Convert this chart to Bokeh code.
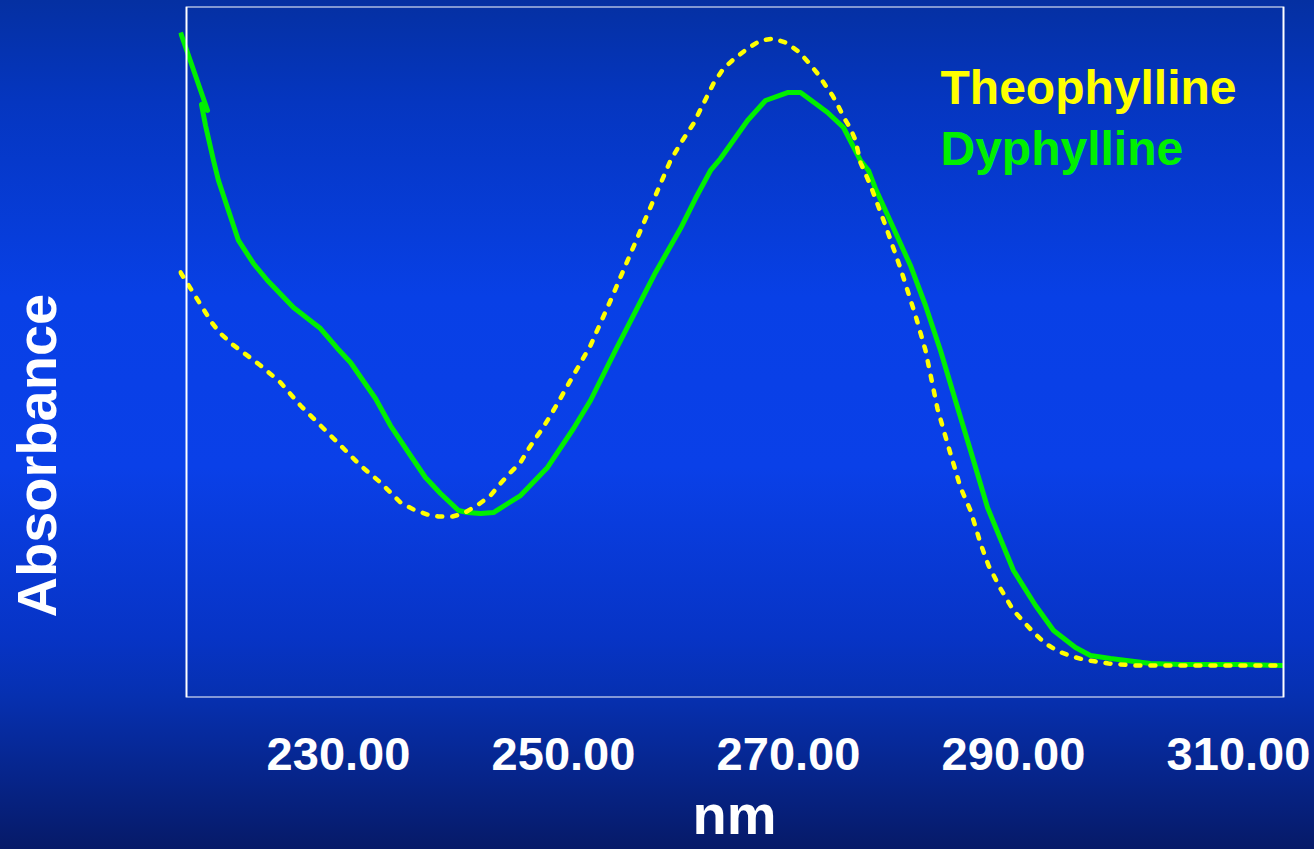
import math
from bokeh.plotting import figure
from bokeh.models import BoxAnnotation, Label, FixedTicker, Range1d
from bokeh.embed import file_html
from bokeh.resources import INLINE

# ---- data ----
tick_values = [230, 250, 270, 290, 310]
tick_labels = ["230.00", "250.00", "270.00", "290.00", "310.00"]
y_label_pos = [0.35]
y_label_text = ["Absorbance"]

# pixel-read positions converted: nm = 230 + (px-338)/11.25 ; A = (697-py)/691
dy_px_x = [180, 207, 201, 205, 213, 218, 227, 238, 253, 267, 293, 320, 337, 350, 375, 390, 410, 425,
           440, 458, 467, 480, 493, 520, 547, 573, 590, 615, 638, 655, 680, 695, 710, 720, 747, 765,
           787, 800, 815, 827, 843, 860, 868, 875, 895, 910, 925, 940, 955, 970, 987, 1013, 1035,
           1053, 1075, 1090, 1110, 1150, 1180, 1240, 1283]
dy_px_y = [32, 110, 104, 125, 160, 180, 207, 240, 263, 280, 307, 328, 348, 362, 398, 425, 455, 477,
           493, 510, 512, 513, 512, 495, 467, 428, 400, 350, 305, 272, 228, 198, 170, 158, 120, 100,
           92, 92, 103, 112, 127, 160, 170, 188, 232, 265, 305, 350, 400, 450, 507, 570, 605,
           630, 647, 655, 658, 663, 664, 664, 665]

th_px_x = [180, 205, 212, 220, 232, 260, 280, 300, 320, 340, 360, 380, 400, 413, 427, 438, 452, 463,
           478, 490, 500, 510, 520, 527, 535, 542, 550, 557, 570, 590, 610, 625, 640, 655, 670, 680,
           693, 703, 713, 723, 733, 747, 760, 773, 785, 798, 808, 817, 825, 832, 838, 844, 850, 855,
           860, 870, 885, 900, 915, 925, 937, 947, 960, 970, 980, 988, 1000, 1013, 1033, 1045, 1058,
           1072, 1083, 1108, 1133, 1200, 1283]
th_px_y = [272, 312, 323, 333, 344, 365, 382, 405, 425, 445, 465, 482, 502, 509, 514, 516, 516, 513,
           504, 495, 483, 472, 462, 450, 438, 428, 415, 403, 380, 345, 300, 265, 230, 195, 160, 143,
           123, 103, 83, 68, 59, 48, 40, 38, 42, 51, 62, 73, 85, 95, 106, 118, 128, 140,
           162, 185, 225, 268, 315, 350, 408, 443, 487, 510, 543, 565, 588, 610, 632, 643, 651,
           656, 659, 663, 665, 665, 665]

wavelength_dy = [round(230 + (x - 338) / 11.25, 2) for x in dy_px_x]
absorb_dy = [round((697 - y) / 691, 4) for y in dy_px_y]
wavelength_th = [round(230 + (x - 338) / 11.25, 2) for x in th_px_x]
absorb_th = [round((697 - y) / 691, 4) for y in th_px_y]

series_names = ["Theophylline", "Dyphylline"]
series_colors = ["#ffff00", "#00f000"]

W, H = 1314, 849
FL, FR, FT, FB = 178, 1290, 6, 697   # frame pixel edges
x0 = 230 + (FL - 338) / 11.25
x1 = 230 + (FR - 338) / 11.25

p = figure(width=W, height=H, output_backend="svg", toolbar_location=None,
           x_range=Range1d(x0, x1), y_range=Range1d(0, 1),
           min_border_left=FL, min_border_right=W - FR,
           min_border_top=FT, min_border_bottom=H - FB)
p.styles = {"background": "linear-gradient(to bottom, #0530a2 0%, #0536c0 12%, #0840e6 35%, "
                          "#0a40e8 55%, #0734c6 75%, #0630b0 82%, #061a68 100%)"}
p.border_fill_color = None
p.background_fill_color = None
p.outline_line_color = None
p.grid.visible = False

# plot box
box = BoxAnnotation(left=230 + (186 - 338) / 11.25, right=230 + (1283 - 338) / 11.25,
                    fill_color=None, fill_alpha=0, line_color="white", line_alpha=1.0,
                    line_width=2)
p.add_layout(box)

p.line(wavelength_dy, absorb_dy, line_color=series_colors[1], line_width=5, line_join="round")
p.line(wavelength_th, absorb_th, line_color=series_colors[0], line_width=4.5,
       line_dash="5 10", line_cap="round")

ax = p.xaxis[0]
ax.ticker = FixedTicker(ticks=tick_values)
ax.major_label_overrides = {v: s for v, s in zip(tick_values, tick_labels)}
ax.axis_line_color = None
ax.major_tick_line_color = None
ax.minor_tick_line_color = None
ax.major_label_text_color = "white"
ax.major_label_text_font = "Liberation Sans"
ax.major_label_text_font_style = "bold"
ax.major_label_text_font_size = "47px"
ax.major_label_standoff = 34
ax.axis_label = "nm"
ax.axis_label_text_color = "white"
ax.axis_label_text_font = "Liberation Sans"
ax.axis_label_text_font_style = "bold"
ax.axis_label_text_font_size = "56px"
ax.axis_label_standoff = 10

ay = p.yaxis[0]
ay.ticker = FixedTicker(ticks=y_label_pos)
ay.major_label_overrides = {v: s for v, s in zip(y_label_pos, y_label_text)}
ay.major_label_orientation = "vertical"
ay.axis_line_color = None
ay.major_tick_line_color = None
ay.minor_tick_line_color = None
ay.major_label_text_color = "white"
ay.major_label_text_font = "Liberation Sans"
ay.major_label_text_font_style = "bold"
ay.major_label_text_font_size = "56px"
ay.major_label_standoff = 104

for name, col, base in zip(series_names, series_colors, [106, 167]):
    p.add_layout(Label(x=940 - FL, y=FB - base + 19, x_units="screen", y_units="screen", text=name,
                       text_align="left", text_baseline="alphabetic", text_color=col,
                       text_font="Liberation Sans", text_font_style="bold",
                       text_font_size="48px"))

open("out.html", "w").write(file_html(p, INLINE))
